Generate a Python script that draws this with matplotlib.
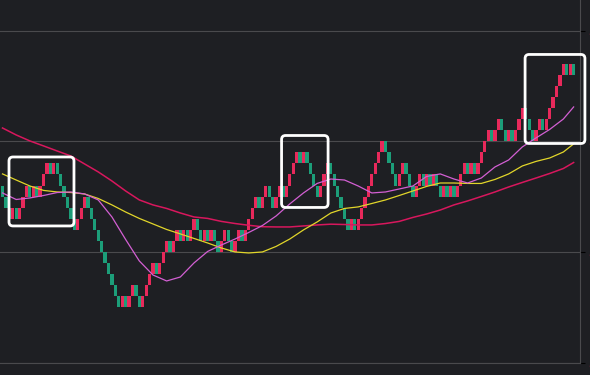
"""
renko_ma.py — Renko bricks with three moving averages and highlight boxes.

Bricks are derived from a list of renko close levels (one brick unit per step):
a step up draws a red brick, a step down a green one, both at the lower level.
"""

import matplotlib
matplotlib.use("Agg")
import matplotlib.pyplot as plt
from matplotlib.patches import FancyBboxPatch
from matplotlib.transforms import IdentityTransform

plt.rcParams.update({
    "figure.facecolor": "#1e1f23",
    "axes.facecolor":   "#1e1f23",
    "axes.edgecolor":   "#4a4a4d",
    "grid.color":       "#4a4a4d",
    "grid.linestyle":   "-",
    "grid.linewidth":   0.8,
})

_UP_COLOR   = "#e8295b"
_DOWN_COLOR = "#1c9e79"
_FAST_COLOR = "#d35fd3"
_MID_COLOR  = "#e2d62a"
_SLOW_COLOR = "#d8175d"
_BOX_COLOR  = "#ffffff"

# ------------------------------------------------------------------
# Data (price in brick units)
# ------------------------------------------------------------------

# renko close levels: opening level, then the close after every brick
closes = [
    6,
    5, 4, 3, 4, 3, 4, 5, 6, 5, 6,
    5, 6, 7, 8, 7, 8, 7, 6, 5, 4,
    3, 2, 3, 4, 5, 4, 3, 2, 1, 0,
    -1, -2, -3, -4, -5, -4, -5, -4, -3, -4,
    -5, -4, -3, -2, -1, -2, -1, 0, 1, 0,
    1, 2, 1, 2, 1, 2, 3, 2, 1, 2,
    1, 2, 1, 0, 1, 2, 1, 0, 1, 2,
    1, 2, 3, 4, 5, 4, 5, 6, 5, 4,
    5, 6, 5, 6, 7, 8, 9, 8, 9, 8,
    7, 6, 5, 6, 7, 8, 7, 6, 5, 4,
    3, 2, 3, 2, 3, 4, 5, 6, 7, 8,
    9, 10, 9, 8, 7, 6, 7, 8, 7, 6,
    5, 6, 7, 6, 7, 6, 7, 6, 5, 6,
    5, 6, 5, 6, 7, 8, 7, 8, 7, 8,
    9, 10, 11, 10, 11, 12, 11, 10, 11, 10,
    11, 12, 13, 12, 11, 10, 11, 12, 11, 12,
    13, 14, 15, 16, 17, 16, 17, 16,
]

# moving averages, sampled at these brick positions
ma_cols = [0, 4, 8, 12, 16, 20, 24, 28, 32, 36, 40, 44, 48, 52, 56, 60,
           64, 68, 72, 76, 80, 84, 88, 92, 96, 100, 104, 108, 112, 116,
           120, 124, 128, 132, 136, 140, 144, 148, 152, 156, 160, 164, 167]

ma_fast = [5.33, 4.74, 4.88, 5.10, 5.37, 5.42, 5.24, 4.70, 3.16, 1.13,
           -0.81, -2.08, -2.62, -2.26, -0.99, 0.05, 0.63, 1.17, 1.76, 2.39,
           3.25, 4.34, 5.33, 6.19, 6.59, 6.50, 5.96, 5.33, 5.42, 5.69,
           5.96, 6.82, 7.05, 6.59, 6.23, 6.68, 7.68, 8.31, 9.49, 10.30,
           11.07, 12.01, 13.10]

ma_mid = [7.05, 6.50, 5.96, 5.56, 5.42, 5.37, 5.24, 4.83, 4.25, 3.61,
          3.03, 2.53, 2.03, 1.63, 1.22, 0.81, 0.36, 0.00, -0.09, 0.00,
          0.50, 1.17, 1.99, 2.71, 3.52, 3.93, 4.07, 4.38, 4.70, 5.10,
          5.51, 5.92, 6.23, 6.23, 6.19, 6.19, 6.55, 7.05, 7.77, 8.18,
          8.49, 9.03, 9.76]

ma_slow = [11.20, 10.57, 10.03, 9.58, 9.12, 8.67, 7.95, 7.23, 6.41, 5.51,
           4.70, 4.25, 3.93, 3.52, 3.16, 3.03, 2.76, 2.57, 2.41, 2.28,
           2.26, 2.26, 2.35, 2.44, 2.51, 2.48, 2.44, 2.44, 2.57, 2.76,
           3.12, 3.43, 3.79, 4.25, 4.61, 5.01, 5.42, 5.87, 6.28, 6.68,
           7.09, 7.54, 8.08]

price_ticks  = [-10, 0, 10, 20]
price_labels = ["3,200.00", "3,300.00", "3,400.00", "3,500.00"]

# highlighted zones: (first brick, last brick, low level, high level)
highlights = [
    (1.9, 20.9, 2.35, 8.58),
    (81.6, 95.2, 4.02, 10.52),
    (152.8, 170.3, 9.80, 17.84),
]


# ------------------------------------------------------------------
# Plot
# ------------------------------------------------------------------

def plot_renko() -> plt.Figure:
    fig = plt.figure(figsize=(5.9, 3.75), dpi=100)
    ax = fig.add_axes([0, 12 / 375, 580 / 590, 363 / 375])

    steps = list(zip(closes[:-1], closes[1:]))
    idx = list(range(len(steps)))
    bottoms = [min(a, b) for a, b in steps]
    colors = [_UP_COLOR if b > a else _DOWN_COLOR for a, b in steps]
    ax.bar(idx, [1] * len(steps), bottom=bottoms, width=0.95,
           color=colors, linewidth=0, zorder=2)

    ax.plot(ma_cols, ma_slow, color=_SLOW_COLOR, linewidth=1.1, zorder=3)
    ax.plot(ma_cols, ma_mid, color=_MID_COLOR, linewidth=0.9, zorder=3)
    ax.plot(ma_cols, ma_fast, color=_FAST_COLOR, linewidth=0.9, zorder=3)

    ax.set_xlim(-0.73, 168.86)
    ax.set_ylim(-10.03, 22.76)

    ax.set_xticks([])
    ax.yaxis.tick_right()
    ax.set_yticks(price_ticks)
    ax.set_yticklabels(price_labels)
    # price scale sits mostly outside the crop, as in the source screenshot
    ax.tick_params(axis="y", length=3.6, width=0.8, color="#000000",
                   labelcolor=_UP_COLOR, labelsize=8, pad=2.2)
    ax.grid(True, axis="y", zorder=0)

    for side in ("top", "left"):
        ax.spines[side].set_visible(False)
    for side in ("right", "bottom"):
        ax.spines[side].set_color("#4a4a4d")
        ax.spines[side].set_linewidth(0.8)

    # White rounded highlight boxes, drawn in pixels so corners stay round
    for x0, x1, y0, y1 in highlights:
        (px0, py0), (px1, py1) = ax.transData.transform([(x0, y0), (x1, y1)])
        box = FancyBboxPatch(
            (px0, py0), px1 - px0, py1 - py0,
            boxstyle="round,pad=0,rounding_size=4",
            transform=IdentityTransform(),
            facecolor="none", edgecolor=_BOX_COLOR, linewidth=2.0,
            zorder=5,
        )
        fig.add_artist(box)

    return fig


if __name__ == "__main__":
    fig = plot_renko()
    fig.savefig("out.png", dpi=100)
    plt.close(fig)
